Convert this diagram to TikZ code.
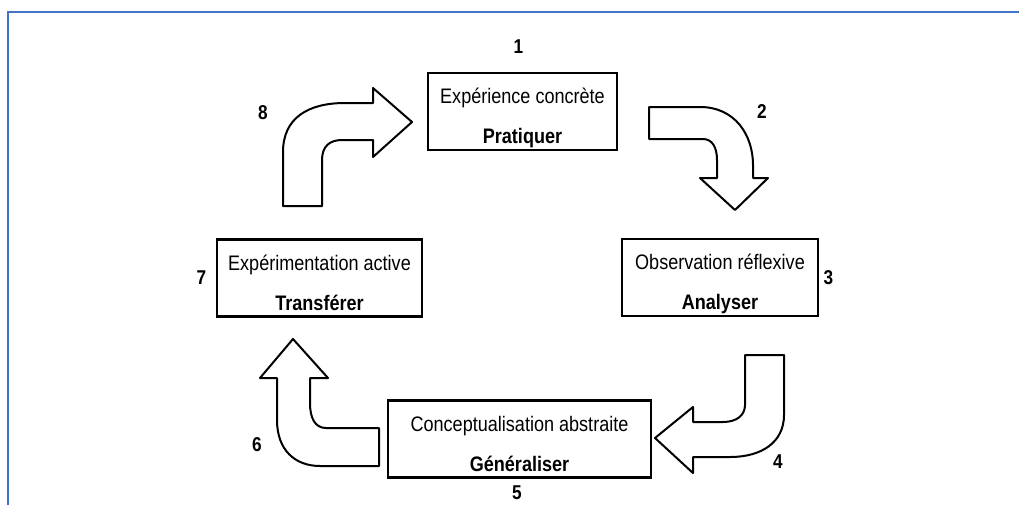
\documentclass[tikz,border=0pt]{standalone}
\usepackage{fontspec}
\setmainfont{Liberation Sans}[FakeStretch=0.86]
\usepackage{tikz}
\usetikzlibrary{positioning}
\definecolor{frameblue}{RGB}{68,114,196}

% two lines of a stage box: name of the phase, then the verb in bold
\newcommand{\stagetext}[2]{\rule{0pt}{29pt}#1\\[15pt]\textbf{#2}\rule[-5pt]{0pt}{5pt}}

\tikzset{
  stage/.style={draw, line width=2.4pt, minimum height=77pt, align=center,
    inner sep=0pt, font=\fontsize{21}{25}\selectfont},
  num/.style={font=\fontsize{20}{24}\selectfont\bfseries},
  bigarrow/.style={draw, line width=2pt, fill=white, line join=round}
}

\begin{document}
\begin{tikzpicture}[x=1pt,y=-1pt]
    \useasboundingbox (0,0) rectangle (1019,504);
    \draw[frameblue, line width=2pt] (8,520) -- (8,12) -- (1030,12);

    \node[stage, minimum width=189pt] (pratiquer) at (522.5,111.5) {\stagetext{Expérience concrète}{Pratiquer}};
    \node[stage, minimum width=196pt] (analyser) at (720,277.5) {\stagetext{Observation réflexive}{Analyser}};
    \node[stage, minimum width=263pt] (generaliser) at (519.5,439) {\stagetext{Conceptualisation abstraite}{Généraliser}};
    \node[stage, minimum width=205pt] (transferer) at (319.5,278) {\stagetext{Expérimentation active}{Transférer}};

    \node[num] (n1) [above=15pt of pratiquer, xshift=-4pt] {1};
    \node[num] (n3) [right=1pt of analyser] {3};
    \node[num] (n7) [left=6pt of transferer] {7};
    \node[num] (n5) at (517,493) {5};
    \node[num] (n2) at (762,112) {2};
    \node[num] (n4) at (778,462) {4};
    \node[num] (n6) at (257,445) {6};
    \node[num] (n8) at (263,113) {8};

    % 8 : up then right
    \draw[bigarrow] (283,206) -- (283,152) .. controls (283,118) and (308,103) .. (345,103)
      -- (373,103) -- (373,88) -- (412,122) -- (373,157) -- (373,140) -- (342,140)
      .. controls (330,140) and (322,146) .. (322,160) -- (322,206) -- cycle;
    % 2 : right then down
    \draw[bigarrow] (649,107) -- (700,107) .. controls (735,107) and (753,135) .. (753,165)
      -- (753,178) -- (768,178) -- (735,210) -- (700,178) -- (717,178) -- (717,160)
      .. controls (717,147) and (712,139) .. (703,139) -- (649,139) -- cycle;
    % 4 : down then left
    \draw[bigarrow] (745,355) -- (784,355) -- (784,415) .. controls (784,442) and (762,457) .. (730,457)
      -- (693,457) -- (693,473) -- (655,438) -- (693,407) -- (693,422) -- (723,422)
      .. controls (737,422) and (745,415) .. (745,405) -- cycle;
    % 6 : left then up
    \draw[bigarrow] (379,428) -- (326,428) .. controls (315,428) and (310,418) .. (310,403)
      -- (310,378) -- (328,378) -- (293,339) -- (260,378) -- (277,378) -- (277,420)
      .. controls (277,450) and (295,466) .. (320,466) -- (379,466) -- cycle;
\end{tikzpicture}
\end{document}
